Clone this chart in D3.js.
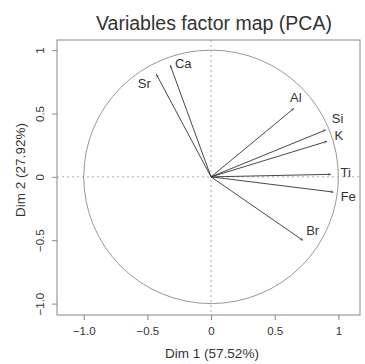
<!DOCTYPE html>
<html>
<head>
<meta charset="utf-8">
<script src="https://cdn.jsdelivr.net/npm/d3@7"></script>
<style>
  body { margin: 0; background: #fff; }
  svg text { font-family: "Liberation Sans", Arial, sans-serif; fill: #333; }
</style>
</head>
<body>
<div id="chart"></div>
<script>
var variables = ['Sr', 'Ca', 'Al', 'Si', 'K', 'Ti', 'Fe', 'Br'];
var dim1 = [-0.43, -0.32, 0.65, 0.90, 0.91, 0.94, 0.96, 0.72];
var dim2 = [0.81, 0.88, 0.54, 0.37, 0.28, 0.02, -0.12, -0.50];
var tickValues = [-1, -0.5, 0, 0.5, 1];
var tickLabels = ['\u22121.0', '\u22120.5', '0', '0.5', '1'];

// label nudges in px (label placement, not data)
var labelNudge = {
  Sr: [-12, 9], Ca: [13, -2], Al: [2, -11], Si: [12, -12],
  K: [12, -6], Ti: [15, -2], Fe: [15, 4], Br: [10, -10]
};

var width = 365, height = 364;
var box = { left: 57, right: 360, top: 40, bottom: 315 };

var svg = d3.select('#chart').append('svg')
    .attr('width', width)
    .attr('height', height);

var x = d3.scaleLinear().domain([-1.21, 1.17]).range([box.left, box.right]);
var y = d3.scaleLinear().domain([-1.09, 1.08]).range([box.bottom, box.top]);

// zero lines
svg.append('line')
    .attr('x1', box.left).attr('x2', box.right)
    .attr('y1', y(0)).attr('y2', y(0))
    .attr('stroke', '#aaa').attr('stroke-dasharray', '2,3');
svg.append('line')
    .attr('x1', x(0)).attr('x2', x(0))
    .attr('y1', box.top).attr('y2', box.bottom)
    .attr('stroke', '#aaa').attr('stroke-dasharray', '2,3');

// unit circle
svg.append('ellipse')
    .attr('cx', x(0)).attr('cy', y(0))
    .attr('rx', x(1) - x(0)).attr('ry', y(0) - y(1))
    .attr('fill', 'none').attr('stroke', '#999').attr('stroke-width', 1);

// frame
svg.append('rect')
    .attr('x', box.left).attr('y', box.top)
    .attr('width', box.right - box.left).attr('height', box.bottom - box.top)
    .attr('fill', 'none').attr('stroke', '#888');

// axes
var xAxis = svg.append('g')
    .attr('transform', 'translate(0,' + box.bottom + ')')
    .call(d3.axisBottom(x).tickValues(tickValues).tickSize(5).tickPadding(7)
      .tickFormat(function(d, i) { return tickLabels[i]; }));
xAxis.select('.domain').remove();
xAxis.selectAll('line').attr('stroke', '#888');
xAxis.selectAll('text').style('font-size', '11.5px').attr('fill', '#444');

var yAxis = svg.append('g')
    .attr('transform', 'translate(' + box.left + ',0)')
    .call(d3.axisLeft(y).tickValues(tickValues).tickSize(5).tickFormat(''));
yAxis.select('.domain').remove();
yAxis.selectAll('line').attr('stroke', '#888');
yAxis.selectAll('.tick').append('text')
    .attr('transform', 'translate(-17,0) rotate(-90)')
    .attr('text-anchor', 'middle')
    .attr('dy', '0.35em')
    .style('font-size', '11.5px')
    .attr('fill', '#444')
    .text(function(d, i) { return tickLabels[i]; });

// arrowhead
svg.append('defs').append('marker')
    .attr('id', 'head')
    .attr('viewBox', '0 0 10 10')
    .attr('refX', 10).attr('refY', 5)
    .attr('markerWidth', 3.5).attr('markerHeight', 3.5)
    .attr('orient', 'auto')
    .append('path')
    .attr('d', 'M0,1 L10,5 L0,9')
    .attr('fill', 'none')
    .attr('stroke', '#333')
    .attr('stroke-width', 1.2);

var arrows = svg.append('g').selectAll('g')
    .data(variables)
    .enter().append('g');

arrows.append('line')
    .attr('x1', x(0)).attr('y1', y(0))
    .attr('x2', function(d, i) { return x(dim1[i]); })
    .attr('y2', function(d, i) { return y(dim2[i]); })
    .attr('stroke', '#333')
    .attr('stroke-width', 0.9)
    .attr('marker-end', 'url(#head)');

arrows.append('text')
    .attr('x', function(d, i) { return x(dim1[i]) + labelNudge[d][0]; })
    .attr('y', function(d, i) { return y(dim2[i]) + labelNudge[d][1]; })
    .attr('text-anchor', 'middle')
    .attr('dy', '0.35em')
    .style('font-size', '13px')
    .text(function(d) { return d; });

// titles
svg.append('text')
    .attr('x', 214).attr('y', 30)
    .attr('text-anchor', 'middle')
    .style('font-size', '19.5px')
    .text('Variables factor map (PCA)');

svg.append('text')
    .attr('x', 212).attr('y', 358)
    .attr('text-anchor', 'middle')
    .style('font-size', '13.5px')
    .text('Dim 1 (57.52%)');

svg.append('text')
    .attr('transform', 'translate(25,170) rotate(-90)')
    .attr('text-anchor', 'middle')
    .style('font-size', '13.5px')
    .text('Dim 2 (27.92%)');
</script>
</body>
</html>
